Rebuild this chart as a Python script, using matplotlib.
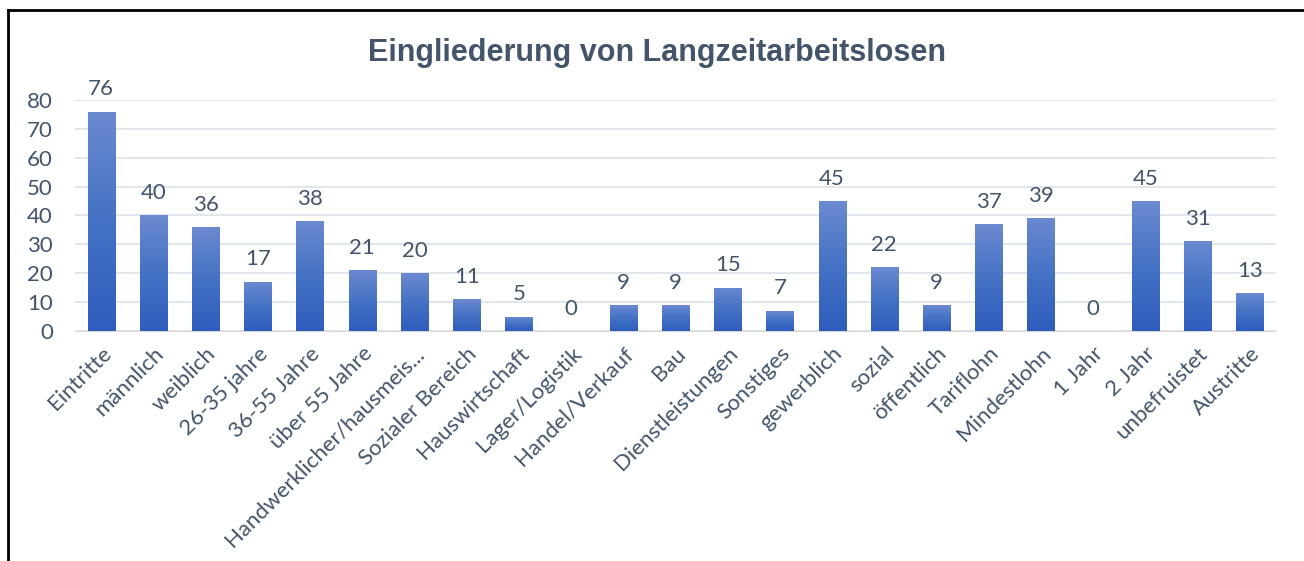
import matplotlib.pyplot as plt
import numpy as np
from matplotlib.lines import Line2D
from matplotlib.colors import LinearSegmentedColormap

categories = ['Eintritte', 'männlich', 'weiblich', '26-35 jahre', '36-55 Jahre',
              'über 55 Jahre', 'Handwerklicher/hausmeis...', 'Sozialer Bereich',
              'Hauswirtschaft', 'Lager/Logistik', 'Handel/Verkauf', 'Bau',
              'Dienstleistungen', 'Sonstiges', 'gewerblich', 'sozial', 'öffentlich',
              'Tariflohn', 'Mindestlohn', '1 Jahr', '2 Jahr', 'unbefruistet', 'Austritte']
values = [76, 40, 36, 17, 38, 21, 20, 11, 5, 0, 9, 9, 15, 7, 45, 22, 9, 37, 39, 0, 45, 31, 13]

text_col = '#44546A'
plt.rcParams['font.family'] = ['Lato', 'DejaVu Sans']

fig = plt.figure(figsize=(13.04, 5.61), dpi=100)
ax = fig.add_axes([0.0575, 0.41, 0.921, 0.4118])

x = np.arange(len(categories))
bars = ax.bar(x, values, width=0.52, color='#4472C4', edgecolor='none', zorder=2)

# vertical gradient inside each bar
grad = np.linspace(0, 1, 256).reshape(-1, 1)
cmap = LinearSegmentedColormap.from_list('g', ['#2E5DBE', '#4472C4', '#6B8AD0'])
for b in bars:
    if b.get_height() <= 0:
        continue
    x0, w, h = b.get_x(), b.get_width(), b.get_height()
    im = ax.imshow(grad, cmap=cmap, aspect='auto', origin='lower',
                   extent=(x0, x0 + w, 0, h), zorder=3)
    im.set_clip_path(b)

for xi, v in zip(x, values):
    ax.text(xi, v + 4.3, str(v), ha='center', va='bottom', fontsize=16,
            color=text_col, clip_on=False)

ax.set_xlim(-0.5, len(categories) - 0.5)
ax.set_ylim(0, 80)
ax.set_yticks(range(0, 81, 10))
ax.grid(axis='y', color='#DCE1EA', linewidth=1.2, zorder=0)
ax.set_axisbelow(True)
for s in ['top', 'right', 'left']:
    ax.spines[s].set_visible(False)
ax.spines['bottom'].set_color('#D9D9D9')
ax.tick_params(axis='both', length=0, labelsize=16, labelcolor=text_col)
ax.tick_params(axis='y', pad=16)
ax.set_xticks(x)
ax.set_xticklabels(categories, rotation=45, ha='right', rotation_mode='anchor')
ax.tick_params(axis='x', pad=9)

fig.text(0.504, 0.905, 'Eingliederung von Langzeitarbeitslosen', ha='center', va='center',
         fontsize=22, fontweight='bold', color=text_col, family='Liberation Sans')

# frame lines around the chart
fig.add_artist(Line2D([0.0065, 0.0065], [0, 0.982], color='black', lw=2))
fig.add_artist(Line2D([0.0065, 1.0], [0.982, 0.982], color='black', lw=2))

fig.savefig('out.png', dpi=100)
